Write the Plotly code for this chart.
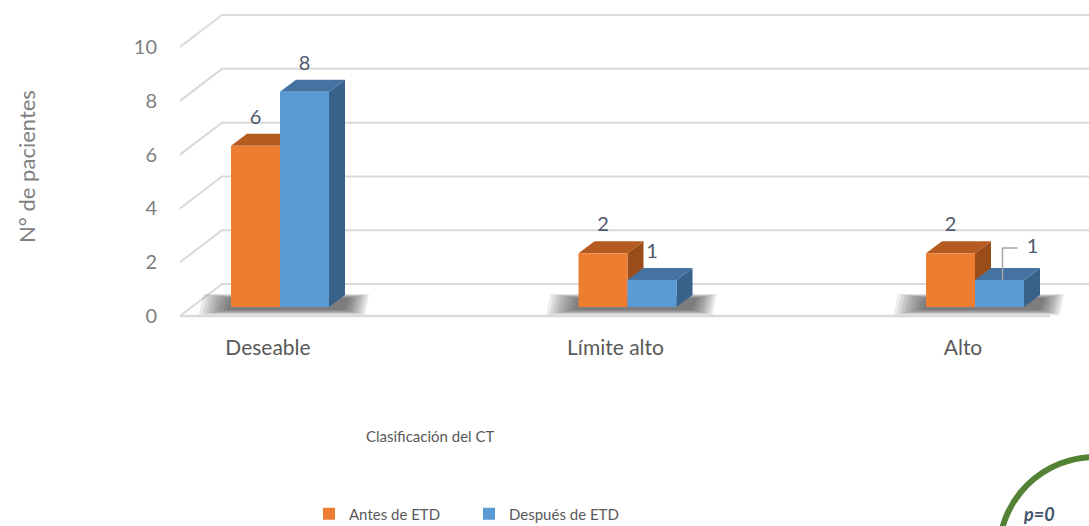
import plotly.graph_objects as go

# ---------------- data ----------------
categories = ["Deseable", "Límite alto", "Alto"]
series_names = ["Antes de ETD", "Después de ETD"]
antes = [6, 2, 2]
despues = [8, 1, 1]
y_ticks = [0, 2, 4, 6, 8, 10]
x_title = "Clasificación del CT"
y_title = "N° de pacientes"
note_text = "p=0"

# ---------------- geometry / style ----------------
W, H = 1089, 526
ML, MR, MT, MB = 180, 0, 0, 196
PW, PH = W - ML - MR, H - MT - MB
PX_X = 347.5                     # px per category step
X0 = -100 / PX_X
X1 = X0 + PW / PX_X
Y_SPAN = 12.27
PX_Y = PH / Y_SPAN
Y1 = 316 / PX_Y
Y0 = Y1 - Y_SPAN


def dx(p):
    return p / PX_X


def dy(p):
    return p / PX_Y


BW = dx(49)          # bar width
DEP_X, DEP_Y = dx(16), dy(12)   # bar depth
BASE = dy(9)         # bar floor raised above front floor edge
WALL_X, WALL_Y = dx(42), dy(32)
FLOOR_RIGHT = X0 + dx(870)
LABEL_GAP = dy(15)
TICK_SHIFT = dx(-12)

FRONT = ["#ED7D31", "#5B9BD5"]
TOP = ["#B65B1F", "#4473A1"]
SIDE = ["#9A4C19", "#39628A"]
GRID = "#D9D9D9"
FONT = "Lato"
LABEL_COLOR = "#4F5A6E"
LABEL_NUDGE = {(2, 1): (dx(33), dy(5))}   # moved label with leader line

series = [antes, despues]

fig = go.Figure()

# ---- walls / gridlines (base subplot) ----
gx, gy = [], []
for v in y_ticks:
    gx += [X0, X0 + WALL_X, X1, None]
    gy += [v, v + WALL_Y, v + WALL_Y, None]
fig.add_trace(go.Scatter(x=gx, y=gy, mode="lines", line=dict(color=GRID, width=2),
                         hoverinfo="skip", showlegend=False, cliponaxis=False))
fig.add_trace(go.Scatter(x=[X0, FLOOR_RIGHT], y=[0, 0], mode="lines",
                         line=dict(color=GRID, width=2.5), hoverinfo="skip",
                         showlegend=False, cliponaxis=False))

# ---- soft shadows under each group ----
for i, _ in enumerate(categories):
    xl = i - BW
    xr = i + BW + DEP_X
    for k in range(9):
        sx = [xl - dx(4 + 3.5 * k), xr + dx(0 + 2.5 * k), xr + dx(4 + 2.5 * k), xl - dx(0 + 3.5 * k)]
        sy = [BASE - dy(3 + 0.6 * k), BASE - dy(3 + 0.6 * k),
              BASE + DEP_Y - dy(3 - 0.5 * k), BASE + DEP_Y - dy(3 - 0.5 * k)]
        fig.add_trace(go.Scatter(x=sx + [sx[0]], y=sy + [sy[0]], mode="lines", fill="toself",
                                 fillcolor="rgba(50,50,50,0.10)", line=dict(width=0),
                                 hoverinfo="skip", showlegend=False))

# ---- 3D side and top faces ----
for i, _ in enumerate(categories):
    for s, vals in enumerate(series):
        v = vals[i]
        xl = i - BW + s * BW
        xr = xl + BW
        top = BASE + v
        # side face
        fig.add_trace(go.Scatter(
            x=[xr, xr + DEP_X, xr + DEP_X, xr, xr],
            y=[BASE, BASE + DEP_Y, top + DEP_Y, top, BASE],
            mode="lines", fill="toself", fillcolor=SIDE[s], line=dict(width=0),
            hoverinfo="skip", showlegend=False))
        # top face
        fig.add_trace(go.Scatter(
            x=[xl, xl + DEP_X, xr + DEP_X, xr, xl],
            y=[top, top + DEP_Y, top + DEP_Y, top, top],
            mode="lines", fill="toself", fillcolor=TOP[s], line=dict(width=0),
            hoverinfo="skip", showlegend=False))

# ---- front faces (overlay subplot, drawn above the faces) ----
for s, vals in enumerate(series):
    fig.add_trace(go.Bar(
        x=[i - BW / 2 + s * BW for i in range(len(categories))],
        y=vals, base=BASE, width=BW, name=series_names[s],
        marker=dict(color=FRONT[s], line=dict(width=0)),
        xaxis="x2", yaxis="y2", hoverinfo="skip"))

# ---- data labels ----
lx, ly, lt = [], [], []
leader_x, leader_y = [], []
for i, _ in enumerate(categories):
    for s, vals in enumerate(series):
        v = vals[i]
        cx = i - BW / 2 + s * BW
        cy = BASE + v + DEP_Y + LABEL_GAP
        if (i, s) in LABEL_NUDGE:
            nx, ny = LABEL_NUDGE[(i, s)]
            leader_x += [cx + dx(3), cx + dx(3), cx + nx - dx(15), None]
            leader_y += [BASE + v, cy + ny, cy + ny, None]
            cx, cy = cx + nx, cy + ny
        lx.append(cx)
        ly.append(cy)
        lt.append(str(v))
fig.add_trace(go.Scatter(x=leader_x, y=leader_y, mode="lines",
                         line=dict(color="#A6A6A6", width=1.5), hoverinfo="skip",
                         showlegend=False, xaxis="x2", yaxis="y2"))
fig.add_trace(go.Scatter(x=lx, y=ly, text=lt, mode="text", textposition="middle center",
                         textfont=dict(family=FONT, size=20, color=LABEL_COLOR),
                         hoverinfo="skip", showlegend=False, xaxis="x2", yaxis="y2",
                         cliponaxis=False))

# ---------------- layout ----------------
fig.update_layout(
    width=W, height=H,
    margin=dict(l=ML, r=MR, t=MT, b=MB, pad=0, autoexpand=False),
    paper_bgcolor="white", plot_bgcolor="white",
    barmode="overlay",
    font=dict(family=FONT, color="#595959"),
    xaxis=dict(range=[X0, X1], showgrid=False, zeroline=False, showline=False,
               tickmode="array", tickvals=[i + TICK_SHIFT for i in range(len(categories))],
               ticktext=categories, ticks="", ticklabelstandoff=3, automargin=False,
               tickfont=dict(family=FONT, size=21, color="#595959")),
    yaxis=dict(range=[Y0, Y1], showgrid=False, zeroline=False, showline=False,
               tickmode="array", tickvals=y_ticks, ticks="", ticklabelstandoff=22,
               automargin=False,
               tickfont=dict(family=FONT, size=20, color="#808080")),
    xaxis2=dict(range=[X0, X1], overlaying="x", visible=False),
    yaxis2=dict(range=[Y0, Y1], overlaying="y", visible=False),
    legend=dict(orientation="h", x=(309 - ML) / PW, y=(PH - 514) / PH,
                xanchor="left", yanchor="middle", font=dict(family=FONT, size=15, color="#595959"),
                entrywidth=115, entrywidthmode="pixels", bgcolor="rgba(0,0,0,0)"),
    annotations=[
        dict(text=x_title, xref="paper", yref="paper", x=(430 - ML) / PW, y=(PH - 436) / PH,
             showarrow=False, xanchor="center", yanchor="middle",
             font=dict(family=FONT, size=15, color="#595959")),
        dict(text=y_title, xref="paper", yref="paper", x=(26 - ML) / PW, y=(PH - 167) / PH,
             showarrow=False, textangle=-90, xanchor="center", yanchor="middle",
             font=dict(family=FONT, size=22, color="#7F7F7F")),
        dict(text="<b><i>" + note_text + "</i></b>", xref="paper", yref="paper",
             x=(1021 - ML) / PW, y=(PH - 514) / PH, showarrow=False,
             xanchor="left", yanchor="middle",
             font=dict(family=FONT, size=18, color="#44546A")),
    ],
    shapes=[
        dict(type="circle", xref="paper", yref="paper",
             x0=(999 - ML) / PW, x1=(1191 - ML) / PW,
             y0=(PH - 457) / PH, y1=(PH - 649) / PH,
             line=dict(color="#548235", width=6), layer="above"),
    ],
)

fig.write_html("out.html", post_script="document.body.style.margin='0';",
               config={"displayModeBar": False})
